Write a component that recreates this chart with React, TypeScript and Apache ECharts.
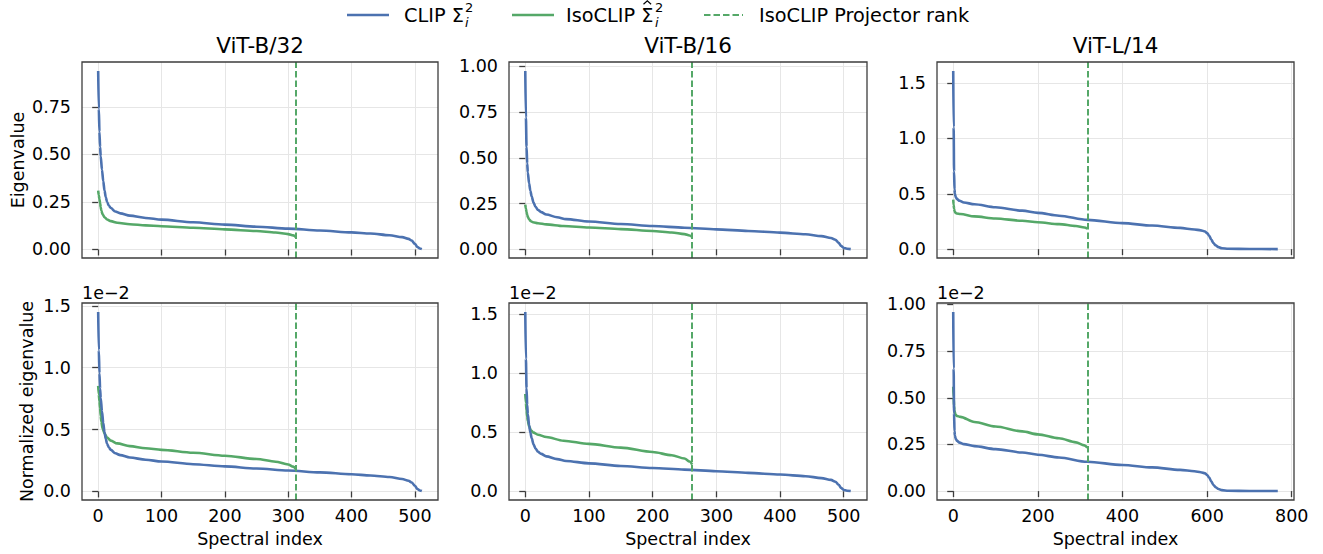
import React, { useEffect, useRef } from "react";
import * as echarts from "echarts";

// ---------------- data ----------------
const panelTitles = ["ViT-B/32", "ViT-B/16", "ViT-L/14"];
const projectorRanks = [312, 262, 317];
const lastIndex = [511, 511, 767];

const xTicks512 = [0, 100, 200, 300, 400, 500];
const xTicks768 = [0, 200, 400, 600, 800];
const yTicksTop = [
  [0, 0.25, 0.5, 0.75],
  [0, 0.25, 0.5, 0.75, 1.0],
  [0, 0.5, 1.0, 1.5],
];
const yTicksBottom = [
  [0, 0.5, 1.0, 1.5],
  [0, 0.5, 1.0, 1.5],
  [0, 0.25, 0.5, 0.75, 1.0],
];
const yDecimalsTop = [2, 2, 1];
const yDecimalsBottom = [1, 1, 2];

// Eigenvalues (top row)
const b32Clip: [number, number][] = [
  [0, 0.94], [1, 0.74], [2, 0.62], [3, 0.54], [4, 0.49], [6, 0.42], [8, 0.36], [10, 0.31],
  [12, 0.275], [14, 0.25], [17, 0.23], [20, 0.218], [27, 0.2], [35, 0.19], [50, 0.178],
  [75, 0.166], [100, 0.157], [150, 0.143], [200, 0.131], [250, 0.12], [300, 0.11], [350, 0.1],
  [400, 0.09], [430, 0.084], [460, 0.075], [480, 0.065], [490, 0.056], [495, 0.047],
  [500, 0.03], [504, 0.013], [508, 0.005], [511, 0.002],
];
const b32Iso: [number, number][] = [
  [0, 0.31], [1, 0.285], [2, 0.265], [3, 0.245], [4, 0.222], [5, 0.205], [7, 0.185], [10, 0.17],
  [14, 0.158], [20, 0.149], [30, 0.141], [50, 0.133], [75, 0.127], [100, 0.122], [150, 0.114],
  [200, 0.106], [250, 0.097], [280, 0.089], [300, 0.081], [308, 0.074], [312, 0.066],
];
const b16Clip: [number, number][] = [
  [0, 0.975], [1, 0.72], [2, 0.56], [3, 0.47], [4, 0.42], [6, 0.36], [8, 0.32], [10, 0.29],
  [13, 0.255], [16, 0.232], [20, 0.215], [25, 0.203], [33, 0.19], [50, 0.175], [64, 0.165],
  [100, 0.152], [150, 0.138], [200, 0.127], [250, 0.118], [300, 0.109], [350, 0.1], [400, 0.091],
  [440, 0.082], [465, 0.072], [480, 0.062], [487, 0.052], [492, 0.035], [496, 0.018],
  [500, 0.007], [505, 0.003], [511, 0.001],
];
const b16Iso: [number, number][] = [
  [0, 0.244], [1, 0.222], [2, 0.203], [3, 0.188], [4, 0.177], [6, 0.163], [9, 0.153], [12, 0.148],
  [20, 0.142], [33, 0.136], [60, 0.127], [100, 0.119], [150, 0.11], [200, 0.1], [230, 0.092],
  [250, 0.083], [258, 0.075], [262, 0.067],
];
const l14Clip: [number, number][] = [
  [0, 1.61], [1, 1.1], [2, 0.7], [3, 0.54], [4, 0.5], [6, 0.47], [9, 0.452], [15, 0.437],
  [25, 0.422], [50, 0.405], [100, 0.378], [163, 0.348], [200, 0.328], [250, 0.302], [317, 0.264],
  [400, 0.235], [470, 0.213], [536, 0.192], [570, 0.178], [585, 0.17], [595, 0.16], [600, 0.145],
  [605, 0.12], [610, 0.085], [615, 0.055], [620, 0.035], [627, 0.018], [635, 0.008],
  [650, 0.003], [700, 0.001], [767, 0.0005],
];
const l14Iso: [number, number][] = [
  [0, 0.447], [1, 0.4], [2, 0.365], [3, 0.345], [5, 0.33], [8, 0.322], [17, 0.318], [50, 0.296],
  [100, 0.277], [163, 0.256], [200, 0.243], [250, 0.226], [290, 0.209], [310, 0.196], [317, 0.186],
];

// Normalized eigenvalues (bottom row), in units of 1e-2
const b32ClipNorm: [number, number][] = [
  [0, 1.45], [1, 1.14], [2, 0.955], [3, 0.832], [4, 0.755], [6, 0.647], [8, 0.554], [10, 0.477],
  [12, 0.424], [14, 0.385], [17, 0.354], [20, 0.336], [27, 0.308], [35, 0.293], [50, 0.274],
  [75, 0.256], [100, 0.242], [150, 0.22], [200, 0.202], [250, 0.185], [300, 0.169], [350, 0.154],
  [400, 0.139], [430, 0.129], [460, 0.116], [480, 0.1], [490, 0.086], [495, 0.072],
  [500, 0.046], [504, 0.02], [508, 0.008], [511, 0.003],
];
const b32IsoNorm: [number, number][] = [
  [0, 0.853], [1, 0.784], [2, 0.729], [3, 0.674], [4, 0.61], [5, 0.564], [7, 0.509], [10, 0.468],
  [14, 0.435], [20, 0.41], [30, 0.388], [50, 0.366], [75, 0.349], [100, 0.336], [150, 0.312],
  [200, 0.288], [250, 0.262], [280, 0.24], [300, 0.218], [308, 0.2], [312, 0.182],
];
const b16ClipNorm: [number, number][] = [
  [0, 1.521], [1, 1.123], [2, 0.874], [3, 0.733], [4, 0.655], [6, 0.562], [8, 0.499], [10, 0.452],
  [13, 0.398], [16, 0.362], [20, 0.335], [25, 0.317], [33, 0.296], [50, 0.273], [64, 0.257],
  [100, 0.237], [150, 0.215], [200, 0.198], [250, 0.184], [300, 0.17], [350, 0.156], [400, 0.142],
  [440, 0.128], [465, 0.112], [480, 0.097], [487, 0.081], [492, 0.055], [496, 0.028],
  [500, 0.011], [505, 0.005], [511, 0.002],
];
const b16IsoNorm: [number, number][] = [
  [0, 0.825], [1, 0.75], [2, 0.686], [3, 0.635], [4, 0.598], [6, 0.551], [9, 0.517], [12, 0.5],
  [20, 0.48], [33, 0.46], [60, 0.429], [100, 0.402], [150, 0.37], [200, 0.333], [230, 0.306],
  [250, 0.278], [258, 0.252], [262, 0.226],
];
const l14ClipNorm: [number, number][] = [
  [0, 0.96], [1, 0.656], [2, 0.417], [3, 0.322], [4, 0.298], [6, 0.28], [9, 0.269], [15, 0.26],
  [25, 0.252], [50, 0.241], [100, 0.225], [163, 0.207], [200, 0.195], [250, 0.18], [317, 0.157],
  [400, 0.14], [470, 0.127], [536, 0.114], [570, 0.106], [585, 0.101], [595, 0.095], [600, 0.086],
  [605, 0.072], [610, 0.051], [615, 0.033], [620, 0.021], [627, 0.011], [635, 0.005],
  [650, 0.002], [700, 0.0006], [767, 0.0003],
];
const l14IsoNorm: [number, number][] = [
  [0, 0.559], [1, 0.5], [2, 0.456], [3, 0.431], [5, 0.413], [8, 0.403], [17, 0.398], [50, 0.37],
  [100, 0.346], [163, 0.32], [200, 0.304], [250, 0.283], [290, 0.261], [310, 0.245], [317, 0.233],
];

// ---------------- styling / layout ----------------
const COLOR_CLIP = "#4C72B0";
const COLOR_ISO = "#55A868";
const FONT = "DejaVu Sans";
const FRAME = "#3d3d3d";
const GRIDLINE = "#e6e6e6";

const colLeft = [82, 509, 937];
const colWidth = [356, 358, 357];
const rowTop = [62, 303];
const rowHeight = [196, 197];

type Panel = {
  row: number;
  col: number;
  clip: [number, number][];
  iso: [number, number][];
  yTicks: number[];
  yDec: number;
};

const panels: Panel[] = [
  { row: 0, col: 0, clip: b32Clip, iso: b32Iso, yTicks: yTicksTop[0], yDec: yDecimalsTop[0] },
  { row: 0, col: 1, clip: b16Clip, iso: b16Iso, yTicks: yTicksTop[1], yDec: yDecimalsTop[1] },
  { row: 0, col: 2, clip: l14Clip, iso: l14Iso, yTicks: yTicksTop[2], yDec: yDecimalsTop[2] },
  { row: 1, col: 0, clip: b32ClipNorm, iso: b32IsoNorm, yTicks: yTicksBottom[0], yDec: yDecimalsBottom[0] },
  { row: 1, col: 1, clip: b16ClipNorm, iso: b16IsoNorm, yTicks: yTicksBottom[1], yDec: yDecimalsBottom[1] },
  { row: 1, col: 2, clip: l14ClipNorm, iso: l14IsoNorm, yTicks: yTicksBottom[2], yDec: yDecimalsBottom[2] },
];

function buildOption() {
  const grid: any[] = [];
  const xAxis: any[] = [];
  const yAxis: any[] = [];
  const series: any[] = [];
  const graphic: any[] = [];

  panels.forEach((p, i) => {
    const last = lastIndex[p.col];
    const xTicks = p.col === 2 ? xTicks768 : xTicks512;
    const xInt = xTicks[1] - xTicks[0];
    const yInt = p.yTicks[1] - p.yTicks[0];
    const vals = [...p.clip, ...p.iso].map((d) => d[1]);
    const lo = Math.min(...vals);
    const hi = Math.max(...vals);
    const pad = (hi - lo) * 0.05;

    grid.push({
      left: colLeft[p.col],
      top: rowTop[p.row],
      width: colWidth[p.col],
      height: rowHeight[p.row],
      containLabel: false,
    });

    const bottomRow = p.row === 1;
    xAxis.push({
      type: "value",
      gridIndex: i,
      min: -last * 0.05,
      max: last * 1.05,
      minInterval: xInt,
      maxInterval: xInt,
      axisLine: { show: false },
      axisTick: {
        show: true,
        length: 6,
        customValues: xTicks,
        lineStyle: { color: FRAME, width: 1.3 },
      },
      axisLabel: {
        show: bottomRow,
        customValues: xTicks,
        fontSize: 17.5,
        fontFamily: FONT,
        color: "#000",
        margin: 7,
        formatter: (v: number) => String(Math.round(v)),
      },
      splitLine: { show: true, lineStyle: { color: GRIDLINE, width: 1 } },
      name: bottomRow ? "Spectral index" : "",
      nameLocation: "middle",
      nameGap: 30,
      nameTextStyle: { fontSize: 17.5, fontFamily: FONT, color: "#000" },
    });

    yAxis.push({
      type: "value",
      gridIndex: i,
      min: lo - pad,
      max: hi + pad,
      minInterval: yInt,
      maxInterval: yInt,
      axisLine: { show: false },
      axisTick: {
        show: true,
        length: 6,
        customValues: p.yTicks,
        lineStyle: { color: FRAME, width: 1.3 },
      },
      axisLabel: {
        customValues: p.yTicks,
        fontSize: 17.5,
        fontFamily: FONT,
        color: "#000",
        margin: 11,
        formatter: (v: number) => v.toFixed(p.yDec),
      },
      splitLine: { show: true, lineStyle: { color: GRIDLINE, width: 1 } },
      name: p.col === 0 ? (p.row === 0 ? "Eigenvalue" : "Normalized eigenvalue") : "",
      nameLocation: "middle",
      nameRotate: 90,
      nameGap: p.row === 0 ? 55 : 46,
      nameTextStyle: { fontSize: 17.5, fontFamily: FONT, color: "#000" },
    });

    series.push({
      type: "line",
      name: "CLIP",
      xAxisIndex: i,
      yAxisIndex: i,
      data: p.clip,
      showSymbol: false,
      smooth: 0.3,
      smoothMonotone: "x",
      lineStyle: { color: COLOR_CLIP, width: 2.6 },
      itemStyle: { color: COLOR_CLIP },
      z: 3,
    });
    series.push({
      type: "line",
      name: "IsoCLIP",
      xAxisIndex: i,
      yAxisIndex: i,
      data: p.iso,
      showSymbol: false,
      smooth: 0.3,
      smoothMonotone: "x",
      lineStyle: { color: COLOR_ISO, width: 2.6 },
      itemStyle: { color: COLOR_ISO },
      z: 2,
      markLine: {
        silent: true,
        symbol: ["none", "none"],
        label: { show: false },
        lineStyle: { color: COLOR_ISO, width: 2, type: [6.5, 3] },
        data: [{ xAxis: projectorRanks[p.col] }],
      },
    });

    // axes frame
    graphic.push({
      type: "rect",
      z: 100,
      silent: true,
      shape: {
        x: colLeft[p.col],
        y: rowTop[p.row],
        width: colWidth[p.col],
        height: rowHeight[p.row],
      },
      style: { fill: "none", stroke: FRAME, lineWidth: 1.3 },
    });

    if (bottomRow) {
      graphic.push({
        type: "text",
        x: colLeft[p.col],
        y: 293,
        silent: true,
        style: {
          text: "1e\u22122",
          fontSize: 17.5,
          fontFamily: FONT,
          fill: "#000",
          align: "left",
          verticalAlign: "middle",
        },
      });
    } else {
      graphic.push({
        type: "text",
        x: colLeft[p.col] + colWidth[p.col] / 2,
        y: 45,
        silent: true,
        style: {
          text: panelTitles[p.col],
          fontSize: 21.5,
          fontFamily: FONT,
          fill: "#000",
          align: "center",
          verticalAlign: "middle",
        },
      });
    }
  });

  // legend (drawn manually to reproduce the math labels)
  const lgY = 15;
  const lgFont = 19.3;
  const lgSmall = 13;
  const legendText = (text: string, x: number, y: number, size: number, italic = false) => ({
    type: "text",
    x,
    y,
    silent: true,
    style: {
      text,
      fontSize: size,
      fontFamily: FONT,
      fontStyle: italic ? "italic" : "normal",
      fill: "#000",
      align: "left",
      verticalAlign: "middle",
    },
  });
  graphic.push({
    type: "line",
    silent: true,
    shape: { x1: 347, y1: lgY, x2: 389, y2: lgY },
    style: { stroke: COLOR_CLIP, lineWidth: 2.6 },
  });
  graphic.push(legendText("CLIP \u03A3", 404, lgY, lgFont));
  graphic.push(legendText("2", 465, lgY - 7.5, lgSmall));
  graphic.push(legendText("i", 465, lgY + 7, lgSmall, true));

  graphic.push({
    type: "line",
    silent: true,
    shape: { x1: 512, y1: lgY, x2: 554, y2: lgY },
    style: { stroke: COLOR_ISO, lineWidth: 2.6 },
  });
  graphic.push(legendText("IsoCLIP \u03A3", 566, lgY, lgFont));
  graphic.push({
    type: "polyline",
    silent: true,
    shape: { points: [[643.5, 4.2], [647.3, 0.8], [651.1, 4.2]] },
    style: { stroke: "#000", lineWidth: 1.2, fill: "none" },
  });
  graphic.push(legendText("2", 655, lgY - 7.5, lgSmall));
  graphic.push(legendText("i", 655, lgY + 7, lgSmall, true));

  graphic.push({
    type: "line",
    silent: true,
    shape: { x1: 704, y1: lgY, x2: 743, y2: lgY },
    style: { stroke: COLOR_ISO, lineWidth: 2, lineDash: [6.5, 3] },
  });
  graphic.push(legendText("IsoCLIP Projector rank", 759, lgY, lgFont));

  return {
    animation: false,
    backgroundColor: "#ffffff",
    textStyle: { fontFamily: FONT },
    grid,
    xAxis,
    yAxis,
    series,
    graphic,
  };
}

export default function App() {
  const ref = useRef<HTMLDivElement>(null);
  useEffect(() => {
    if (!ref.current) return;
    const chart = echarts.init(ref.current, undefined, { renderer: "svg" });
    chart.setOption(buildOption() as any);
    return () => chart.dispose();
  }, []);
  return (
    <div
      ref={ref}
      style={{ position: "absolute", left: 0, top: 0, width: 1323, height: 554 }}
    />
  );
}
